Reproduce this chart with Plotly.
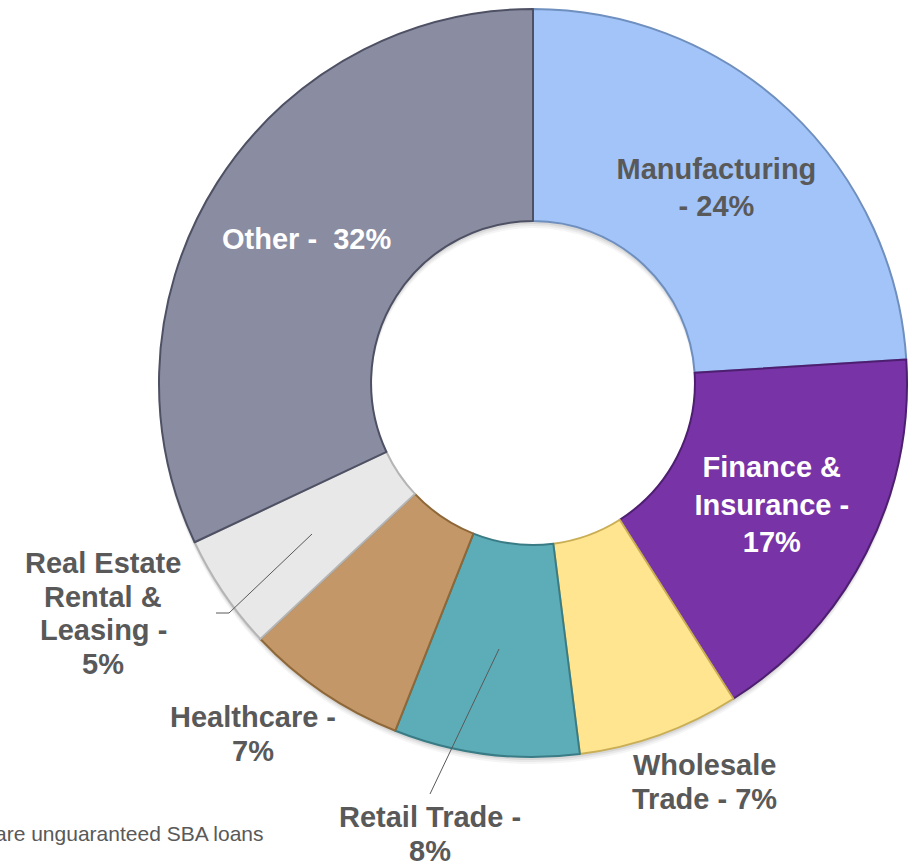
import plotly.graph_objects as go

# SBA loan portfolio by industry (share of total, %)
industries = [
    "Manufacturing",
    "Finance & Insurance",
    "Wholesale Trade",
    "Retail Trade",
    "Healthcare",
    "Real Estate Rental & Leasing",
    "Other",
]
shares = [24, 17, 7, 8, 7, 5, 32]
slice_colors = ["#A2C4F8", "#7833A6", "#FFE58F", "#5DADB9", "#C49768", "#E8E8E8", "#8A8DA1"]
edge_colors = ["#6F8FBF", "#4E1F70", "#C9AE55", "#3A7C86", "#8E6838", "#B5B5B5", "#4E5064"]

# labels drawn inside the ring
inside_text = ["Manufacturing<br>- 24%", "Finance &<br>Insurance -<br>17%", "", "", "", "", "Other -\u00a0 32%"]
inside_color = ["#595959", "white", "#595959", "#595959", "#595959", "#595959", "white"]

# labels drawn outside the ring: lines, centre x, y of first line (px)
outside_labels = [
    (["Wholesale", "Trade - 7%"], 704, 765),
    (["Retail Trade -", "8%"], 430, 817),
    (["Healthcare -", "7%"], 253, 717),
    (["Real Estate", "Rental &", "Leasing -", "5%"], 103, 563),
]
LINE_GAP = 33.5

W, H = 909, 862
cx, cy, r = 533, 383, 374
FONT = "Liberation Sans, Arial"
HOLE = 0.433

fig = go.Figure()

# soft drop shadow under the ring
for off, alpha in [(7, 0.04), (5, 0.05), (3, 0.07)]:
    fig.add_trace(go.Pie(
        values=[1], sort=False, hole=HOLE, textinfo="none", hoverinfo="skip",
        marker=dict(colors=[f"rgba(0,0,0,{alpha})"], line=dict(width=0)),
        domain=dict(x=[(cx - r) / W, (cx + r) / W],
                    y=[(H - cy - off - r) / H, (H - cy - off + r) / H]),
        showlegend=False,
    ))

fig.add_trace(go.Pie(
    labels=industries,
    values=shares,
    sort=False,
    direction="clockwise",
    rotation=0,
    hole=HOLE,
    text=inside_text,
    textinfo="text",
    textposition="inside",
    insidetextorientation="horizontal",
    insidetextfont=dict(family=FONT, size=29, color=inside_color, weight="bold"),
    marker=dict(colors=slice_colors, line=dict(color=edge_colors, width=2)),
    domain=dict(x=[(cx - r) / W, (cx + r) / W], y=[(H - cy - r) / H, (H - cy + r) / H]),
    showlegend=False,
    hoverinfo="label+value",
))

for lines, x, y in outside_labels:
    for i, line in enumerate(lines):
        fig.add_annotation(
            text=line, x=x / W, y=1 - (y + i * LINE_GAP) / H, xref="paper", yref="paper",
            xanchor="center", yanchor="middle", showarrow=False,
            font=dict(family=FONT, size=29, color="#595959", weight="bold"),
        )

# leader lines
fig.add_shape(type="path", xref="paper", yref="paper",
              path=f"M {216/W} {1-613/H} L {229/W} {1-613/H} L {312/W} {1-534/H}",
              line=dict(color="#595959", width=1))
fig.add_shape(type="line", xref="paper", yref="paper",
              x0=430 / W, y0=1 - 794 / H, x1=499 / W, y1=1 - 649 / H,
              line=dict(color="#595959", width=1))

fig.add_annotation(
    text="are unguaranteed SBA loans", x=266 / W, y=1 - 833 / H, xref="paper", yref="paper",
    xanchor="right", yanchor="middle", showarrow=False,
    font=dict(family=FONT, size=21, color="#595959"),
)

fig.update_layout(
    width=W, height=H,
    margin=dict(l=0, r=0, t=0, b=0),
    paper_bgcolor="white", plot_bgcolor="white",
)
fig.write_html("out.html", config={"displayModeBar": False},
               post_script="document.body.style.margin='0px';")
